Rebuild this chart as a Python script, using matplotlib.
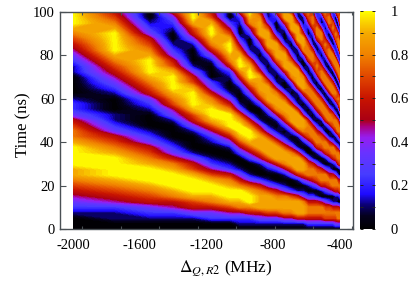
import numpy as np
import matplotlib
matplotlib.use("Agg")
import matplotlib.pyplot as plt
from matplotlib.cm import ScalarMappable
from matplotlib.colors import LinearSegmentedColormap, Normalize

# detuning of each column (MHz)
detuning = [-2000, -1750, -1539, -1400, -1280, -1170, -1059, -1000, -940,
            -880, -831, -780, -730, -690, -652, -620, -590, -563, -538,
            -510, -488, -465, -442, -425, -410, -400]

# time of the rows (ns)
time_ns = [2.5 * j for j in range(41)]

# population per column from t=0 upward, in ninths, estimated from the stripes
columns = [
    "00012 34567 88999 98776 53221 00001 12345 67899 9",
    "00112 45678 99998 76532 11000 12345 67899 99876 5",
    "00123 56789 99876 53210 00123 56789 99876 53210 0",
    "00124 57899 98753 21000 13467 89998 65321 00123 5",
    "00135 68999 86531 00013 56899 98653 10001 35689 9",
    "00235 78998 64210 01246 89987 53200 01357 89986 5",
    "00246 89987 52100 13579 99753 10012 57899 86420 0",
    "01247 89975 31002 46899 86310 01357 99864 20012 5",
    "01257 99863 10024 68997 52001 35799 86310 02478 9",
    "01358 88752 00146 88864 10025 78885 31013 58887 5",
    "01368 88631 01368 88631 01368 88631 01368 88631 0",
    "01368 87520 02588 86310 14788 74101 36888 52002 5",
    "01478 87310 14788 63102 57886 30025 88862 00258 8",
    "01478 86200 36887 41025 88852 01378 86310 25888 5",
    "01588 85101 58885 10158 88510 15888 51015 88851 0",
    "01588 73103 68862 01478 84102 58873 00378 85201 5",
    "02577 52014 77630 03677 51025 77520 15776 30146 7",
    "02577 52025 77510 25775 10257 75102 57751 02577 5",
    "02577 51036 76301 57752 02577 51036 76301 57752 0",
    "02577 40157 75103 67630 15775 10477 52025 77401 5",
    "02676 30257 73015 77401 57751 04775 10367 52026 7",
    "02676 20367 52036 75103 77510 47751 04775 10477 5",
    "02675 10477 50157 73026 76203 77510 57740 15762 0",
    "03675 11577 30267 51157 73026 75105 77302 67510 5",
    "03775 01575 10577 30377 50157 51057 73037 75015 7",
    "03774 02675 01675 11575 10576 20477 30377 40267 5",
]

x_labels = [-2000, -1600, -1200, -800, -400]
# the frame ticks of the original do not line up with the labels
frame_ticks = [-1946, -1715, -1484, -1253, -1022, -791, -560, -329]
y_ticks = [0, 20, 40, 60, 80, 100]
cbar_labels = [0, 0.2, 0.4, 0.6, 0.8, 1]
cbar_minor = [0.1, 0.3, 0.5, 0.7, 0.9]

cmap_stops = [(0.0, (0, 0, 0)), (0.06, (4, 0, 30)), (0.11, (10, 0, 115)), (0.16, (30, 10, 255)),
              (0.25, (70, 60, 255)), (0.35, (105, 50, 255)), (0.42, (150, 30, 240)),
              (0.47, (170, 0, 130)), (0.5, (170, 0, 20)), (0.6, (200, 20, 0)),
              (0.7, (225, 70, 0)), (0.8, (240, 130, 0)), (0.9, (245, 170, 0)),
              (0.95, (250, 210, 0)), (1.0, (255, 255, 0))]

plt.rcParams['font.family'] = ['Liberation Serif', 'DejaVu Serif']
plt.rcParams['mathtext.fontset'] = 'stix'
plt.rcParams['axes.unicode_minus'] = False

W, H = 415, 284
edge = '#4a5055'
cmap = LinearSegmentedColormap.from_list(
    'rabi', [(v, tuple(c / 255 for c in rgb)) for v, rgb in cmap_stops], N=512)
norm = Normalize(0, 1)

z = np.array([[int(c) / 9 for c in col.replace(' ', '')] for col in columns]).T

fig = plt.figure(figsize=(W / 100, H / 100), dpi=100)
ax = fig.add_axes([60 / W, 1 - 229 / H, 293 / W, 217 / H])
ax.contourf(detuning, time_ns, z, levels=np.linspace(0, 1, 64), cmap=cmap, norm=norm,
            extend='neither', antialiased=False)
ax.set_xlim(-2078, -322)
ax.set_ylim(0, 100)
ax.set_axisbelow(False)

ax.set_xticks(x_labels)
ax.set_xticks(frame_ticks, minor=True)
ax.set_yticks(y_ticks)
ax.tick_params(axis='x', which='major', length=0, labelsize=10.5, pad=7)
ax.tick_params(axis='x', which='minor', direction='in', length=2.5, width=0.8,
               top=True, color=edge)
ax.tick_params(axis='y', direction='in', length=4, width=0.8, right=True,
               labelsize=10.5, pad=4, color=edge)
for s in ax.spines.values():
    s.set_color(edge)
    s.set_linewidth(1.0)

ax.set_ylabel('Time (ns)', fontsize=12, y=0.48, labelpad=1)
ax.set_xlabel(r'$\Delta_{Q,R2}$ (MHz)', fontsize=12.5, x=0.565, labelpad=5)

cax = fig.add_axes([360 / W, 1 - 229 / H, 15 / W, 218 / H])
cb = fig.colorbar(ScalarMappable(norm=norm, cmap=cmap), cax=cax)
cb.outline.set_visible(False)
cb.set_ticks(cbar_labels)
cb.set_ticklabels(['0', '0.2', '0.4', '0.6', '0.8', '1'])
cax.set_yticks(cbar_minor, minor=True)
cax.tick_params(which='both', direction='in', length=2, width=0.7, left=True, right=True,
                color='#222222')
cax.tick_params(axis='y', which='major', labelsize=10.5, pad=11)

fig.savefig('out.png', dpi=100)
